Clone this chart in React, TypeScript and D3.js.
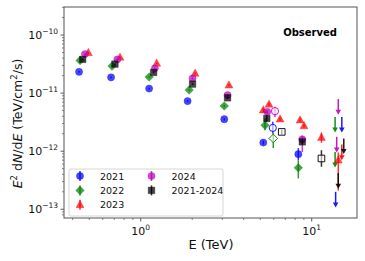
import React from "react";
import * as d3 from "d3";

const W = 365;
const H = 261;
const margin = { top: 7, right: 8, bottom: 43, left: 64 };

// --- data (E in TeV, E^2 dN/dE in TeV/cm^2/s) ---
// 2021
const e2021 = [0.436, 0.671, 1.12, 1.88, 3.08, 5.21, 8.35];
const f2021 = [2.33e-11, 1.87e-11, 1.2e-11, 7.3e-12, 3.56e-12, 1.41e-12, 8.9e-13];
const lo2021 = [2.25e-11, 1.8e-11, 1.16e-11, 7.0e-12, 3.4e-12, 1.3e-12, 7.0e-13];
const hi2021 = [2.41e-11, 1.94e-11, 1.24e-11, 7.6e-12, 3.7e-12, 1.52e-12, 1.13e-12];
const e2021Open = [5.92];
const f2021Open = [2.52e-12];
const lo2021Open = [2.02e-12];
const hi2021Open = [3.2e-12];
const e2021Ul = [15.0, 13.8];
const f2021Ul = [3.9e-12, 2.0e-13];

// 2022
const e2022 = [0.442, 0.68, 1.12, 1.92, 3.08, 5.33, 8.35];
const f2022 = [3.66e-11, 2.92e-11, 1.89e-11, 1.13e-11, 6.0e-12, 2.8e-12, 5.2e-13];
const lo2022 = [3.55e-11, 2.83e-11, 1.83e-11, 1.09e-11, 5.7e-12, 2.3e-12, 3.4e-13];
const hi2022 = [3.77e-11, 3.01e-11, 1.95e-11, 1.17e-11, 6.3e-12, 3.66e-12, 7.0e-13];
const e2022Open = [5.96];
const f2022Open = [1.66e-12];
const lo2022Open = [1.13e-12];
const hi2022Open = [2.04e-12];
const e2022Ul = [13.7, 13.7];
const f2022Ul = [3.9e-12, 9.7e-13];

// 2023
const e2023 = [0.494, 0.757, 1.24, 2.08, 3.28, 5.21, 5.63, 6.53, 8.55, 9.02, 11.4, 14.3];
const f2023 = [4.96e-11, 4.12e-11, 3.25e-11, 2.18e-11, 1.37e-11, 5.1e-12, 6.4e-12, 3.56e-12, 3.42e-12, 2.73e-12, 1.72e-12, 7.0e-13];
const lo2023 = [4.8e-11, 4.0e-11, 3.15e-11, 2.1e-11, 1.32e-11, 4.7e-12, 6.0e-12, 3.3e-12, 3.2e-12, 2.55e-12, 1.4e-12, 2.1e-13];
const hi2023 = [5.1e-11, 4.25e-11, 3.35e-11, 2.26e-11, 1.42e-11, 5.5e-12, 6.8e-12, 3.8e-12, 3.65e-12, 2.9e-12, 2.1e-12, 9.5e-13];
const e2023Ul = [15.0];
const f2023Ul = [1.3e-12];

// 2024
const e2024 = [0.472, 0.73, 1.21, 2.01, 3.22, 5.5, 8.81];
const f2024 = [4.7e-11, 3.8e-11, 2.67e-11, 1.79e-11, 9.24e-12, 4.77e-12, 1.6e-12];
const lo2024 = [4.55e-11, 3.68e-11, 2.58e-11, 1.72e-11, 8.8e-12, 4.4e-12, 9.7e-13];
const hi2024 = [4.85e-11, 3.92e-11, 2.76e-11, 1.86e-11, 9.7e-12, 5.1e-12, 1.86e-12];
const e2024Open = [6.1];
const f2024Open = [4.9e-12];
const lo2024Open = [3.9e-12];
const hi2024Open = [5.8e-12];
const e2024Ul = [14.3, 14.0];
const f2024Ul = [7.9e-12, 1.77e-12];

// 2021-2024
const eAll = [0.458, 0.707, 1.19, 2.01, 3.22, 5.46, 8.81];
const fAll = [3.81e-11, 3.16e-11, 2.27e-11, 1.43e-11, 8.3e-12, 3.66e-12, 1.45e-12];
const loAll = [3.72e-11, 3.08e-11, 2.2e-11, 1.38e-11, 8.0e-12, 3.2e-12, 1.32e-12];
const hiAll = [3.9e-11, 3.24e-11, 2.34e-11, 1.48e-11, 8.6e-12, 4.2e-12, 1.58e-12];
const eAllOpen = [6.68, 11.4];
const fAllOpen = [2.15e-12, 7.5e-13];
const loAllOpen = [1.95e-12, 5.4e-13];
const hiAllOpen = [2.35e-12, 1.04e-12];
const eAllUl = [15.4, 14.3];
const fAllUl = [1.66e-12, 4.2e-13];

const xMajor = [1, 10];
const xMajorExp = ["0", "1"];
const yMajor = [1e-13, 1e-12, 1e-11, 1e-10];
const yMajorExp = ["\u221213", "\u221212", "\u221211", "\u221210"];

type Shape = "circle" | "diamond" | "triangle" | "square";

interface Series {
  name: string;
  color: string;
  shape: Shape;
  e: number[];
  f: number[];
  lo: number[];
  hi: number[];
  eOpen: number[];
  fOpen: number[];
  loOpen: number[];
  hiOpen: number[];
  eUl: number[];
  fUl: number[];
}

const series: Series[] = [
  { name: "2021", color: "#0000ff", shape: "circle", e: e2021, f: f2021, lo: lo2021, hi: hi2021, eOpen: e2021Open, fOpen: f2021Open, loOpen: lo2021Open, hiOpen: hi2021Open, eUl: e2021Ul, fUl: f2021Ul },
  { name: "2022", color: "#008000", shape: "diamond", e: e2022, f: f2022, lo: lo2022, hi: hi2022, eOpen: e2022Open, fOpen: f2022Open, loOpen: lo2022Open, hiOpen: hi2022Open, eUl: e2022Ul, fUl: f2022Ul },
  { name: "2023", color: "#ff0000", shape: "triangle", e: e2023, f: f2023, lo: lo2023, hi: hi2023, eOpen: [], fOpen: [], loOpen: [], hiOpen: [], eUl: e2023Ul, fUl: f2023Ul },
  { name: "2024", color: "#bf00bf", shape: "circle", e: e2024, f: f2024, lo: lo2024, hi: hi2024, eOpen: e2024Open, fOpen: f2024Open, loOpen: lo2024Open, hiOpen: hi2024Open, eUl: e2024Ul, fUl: f2024Ul },
  { name: "2021-2024", color: "#000000", shape: "square", e: eAll, f: fAll, lo: loAll, hi: hiAll, eOpen: eAllOpen, fOpen: fAllOpen, loOpen: loAllOpen, hiOpen: hiAllOpen, eUl: eAllUl, fUl: fAllUl },
];

const ulRatio = 0.55; // arrow length for upper limits (in flux factor)

const markerPath = (shape: Shape) => {
  switch (shape) {
    case "circle":
      return "M3.6,0A3.6,3.6,0,1,1,-3.6,0A3.6,3.6,0,1,1,3.6,0Z";
    case "diamond":
      return "M0,-4.3L4.3,0L0,4.3L-4.3,0Z";
    case "triangle":
      return "M0,-4.4L4,2.9L-4,2.9Z";
    case "square":
      return "M-3.3,-3.3L3.3,-3.3L3.3,3.3L-3.3,3.3Z";
  }
};

const Marker = ({ x, y, s, open }: { x: number; y: number; s: Series; open?: boolean }) => (
  <path
    transform={`translate(${x},${y})`}
    d={markerPath(s.shape)}
    fill={open ? "white" : s.color}
    fillOpacity={open ? 0.6 : 0.72}
    stroke={s.color}
    strokeOpacity={open ? 0.9 : 0.3}
    strokeWidth={1}
  />
);

const App = () => {
  const x = d3.scaleLog().domain([0.356, 18.4]).range([margin.left, W - margin.right]);
  const y = d3.scaleLog().domain([Math.pow(10, -13.15), Math.pow(10, -9.517)]).range([H - margin.bottom, margin.top]);

  const xMinor: number[] = [];
  for (let k = -1; k <= 1; k++) for (let m = 2; m <= 9; m++) xMinor.push(m * Math.pow(10, k));
  const yMinor: number[] = [];
  for (let k = -14; k <= -10; k++) for (let m = 2; m <= 9; m++) yMinor.push(m * Math.pow(10, k));
  const [x0, x1] = x.domain();
  const [y0, y1] = y.domain();

  const font = "DejaVu Sans, sans-serif";
  const axisColor = "#333";

  return (
    <svg width={W} height={H} style={{ position: "absolute", left: 0, top: 0, background: "white" }} fontFamily={font}>
      {/* minor ticks */}
      {xMinor.filter((v) => v >= x0 && v <= x1).map((v, i) => (
        <line key={`xm${i}`} x1={x(v)} x2={x(v)} y1={H - margin.bottom} y2={H - margin.bottom + 2} stroke={axisColor} strokeWidth={0.6} />
      ))}
      {yMinor.filter((v) => v >= y0 && v <= y1).map((v, i) => (
        <line key={`ym${i}`} x1={margin.left - 2} x2={margin.left} y1={y(v)} y2={y(v)} stroke={axisColor} strokeWidth={0.6} />
      ))}
      {/* major ticks + labels */}
      {xMajor.map((v, i) => (
        <g key={`xM${i}`}>
          <line x1={x(v)} x2={x(v)} y1={H - margin.bottom} y2={H - margin.bottom + 3.5} stroke={axisColor} strokeWidth={0.8} />
          <text x={x(v)} y={H - margin.bottom + 17} textAnchor="middle" fontSize={11} fill="#111">
            10<tspan dy={-5} fontSize={7.5}>{xMajorExp[i]}</tspan>
          </text>
        </g>
      ))}
      {yMajor.map((v, i) => (
        <g key={`yM${i}`}>
          <line x1={margin.left - 3.5} x2={margin.left} y1={y(v)} y2={y(v)} stroke={axisColor} strokeWidth={0.8} />
          <text x={margin.left - 6} y={y(v) + 4} textAnchor="end" fontSize={11} fill="#111">
            10<tspan dy={-5} fontSize={7.5}>{yMajorExp[i]}</tspan>
          </text>
        </g>
      ))}

      {/* data */}
      {series.map((s) => (
        <g key={s.name}>
          {s.e.map((e, i) => (
            <line key={`eb${i}`} x1={x(e)} x2={x(e)} y1={y(s.lo[i])} y2={y(s.hi[i])} stroke={s.color} strokeWidth={1.5} strokeOpacity={0.8} />
          ))}
          {s.eOpen.map((e, i) => (
            <line key={`ebo${i}`} x1={x(e)} x2={x(e)} y1={y(s.loOpen[i])} y2={y(s.hiOpen[i])} stroke={s.color} strokeWidth={1.5} strokeOpacity={0.8} />
          ))}
          {s.e.map((e, i) => (
            <Marker key={`m${i}`} x={x(e)} y={y(s.f[i])} s={s} />
          ))}
          {s.eOpen.map((e, i) => (
            <Marker key={`mo${i}`} x={x(e)} y={y(s.fOpen[i])} s={s} open />
          ))}
          {s.eUl.map((e, i) => {
            const px = x(e);
            const top = y(s.fUl[i]);
            const bot = y(s.fUl[i] * ulRatio);
            return (
              <g key={`ul${i}`} opacity={0.9}>
                <line x1={px} x2={px} y1={top} y2={bot - 3} stroke={s.color} strokeWidth={1.5} />
                <path d={`M${px - 2.8},${bot - 4.5}L${px + 2.8},${bot - 4.5}L${px},${bot + 0.5}Z`} fill={s.color} />
              </g>
            );
          })}
        </g>
      ))}

      {/* frame */}
      <rect x={margin.left} y={margin.top} width={W - margin.left - margin.right} height={H - margin.top - margin.bottom} fill="none" stroke="#555" strokeWidth={1} />

      <text x={337} y={36} textAnchor="end" fontSize={10} fontWeight="bold" fill="#000">
        Observed
      </text>

      {/* legend */}
      <g>
        <rect x={69} y={169} width={154} height={47} rx={2} fill="white" fillOpacity={0.8} stroke="#ccc" strokeWidth={0.8} />
        {series.map((s, i) => {
          const col = i < 3 ? 0 : 1;
          const row = i < 3 ? i : i - 3;
          const mx = col === 0 ? 80 : 151.5;
          const my = 176 + row * 14.4;
          return (
            <g key={`lg${i}`}>
              <line x1={mx} x2={mx} y1={my - 5} y2={my + 5} stroke={s.color} strokeWidth={1.5} strokeOpacity={0.8} />
              <Marker x={mx} y={my} s={s} />
              <text x={mx + 20} y={my + 3.5} fontSize={9.5} fill="#111">
                {s.name}
              </text>
            </g>
          );
        })}
      </g>

      {/* axis labels */}
      <text x={211} y={249} textAnchor="middle" fontSize={13} fill="#111">
        E (TeV)
      </text>
      <text transform="translate(22,123.5) rotate(-90)" textAnchor="middle" fontSize={12.5} fill="#111">
        <tspan fontStyle="italic">E</tspan>
        <tspan dy={-5} fontSize={8.5}>2</tspan>
        <tspan dy={5}> d</tspan>
        <tspan fontStyle="italic">N</tspan>
        <tspan>/d</tspan>
        <tspan fontStyle="italic">E</tspan>
        <tspan> (TeV/cm</tspan>
        <tspan dy={-5} fontSize={8.5}>2</tspan>
        <tspan dy={5}>/s)</tspan>
      </text>
    </svg>
  );
};

export default App;
